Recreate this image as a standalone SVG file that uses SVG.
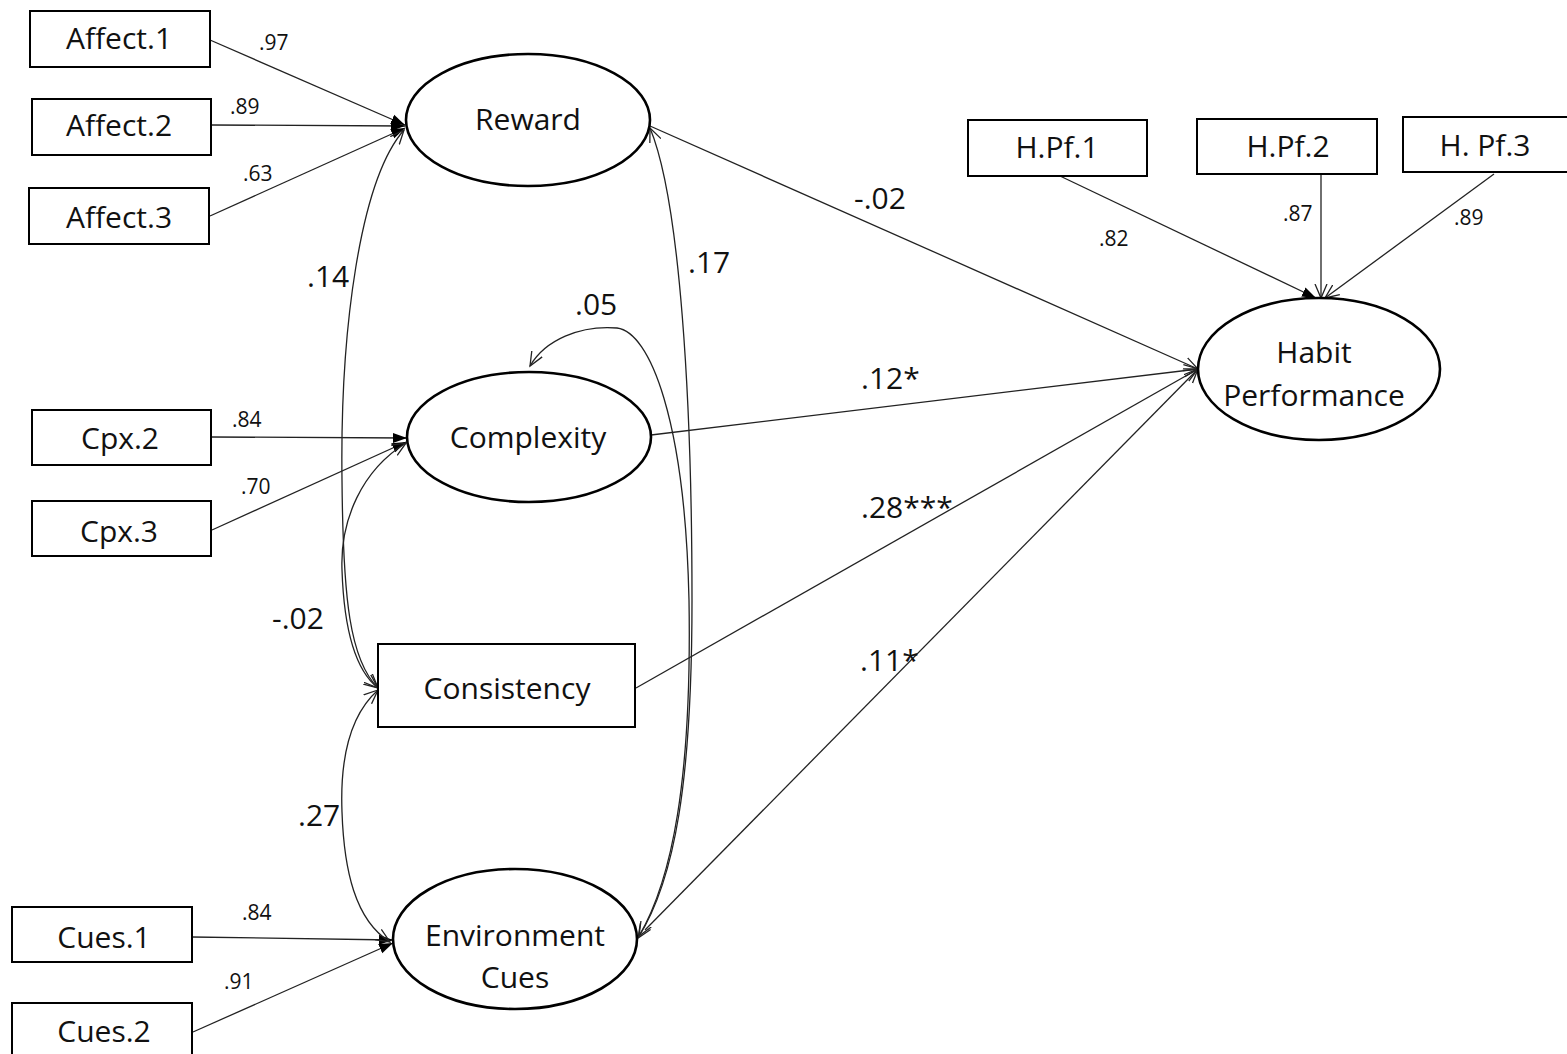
<svg xmlns="http://www.w3.org/2000/svg" width="1567" height="1054" viewBox="0 0 1567 1054">
  <defs>
    <style>
      .box { fill: #fff; stroke: #000; stroke-width: 2; }
      .lat { fill: #fff; stroke: #000; stroke-width: 2.6; }
      .lbl { font-family: "Open Sans", "Noto Sans", sans-serif; font-size: 30px; fill: #111; text-anchor: middle; }
      .coef { font-family: "Open Sans", "Noto Sans", sans-serif; font-size: 30px; fill: #111; }
      .load { font-family: "Open Sans", "Noto Sans", sans-serif; font-size: 21px; fill: #111; }
      .ln { fill: none; stroke: #222; stroke-width: 1.3; }
      .solid { marker-end: url(#headFilled); }
      .open { marker-end: url(#headOpen); }
      .both { marker-start: url(#headOpen); marker-end: url(#headOpen); }
    </style>
    <marker id="headFilled" markerUnits="userSpaceOnUse" markerWidth="16" markerHeight="12" refX="14" refY="6" orient="auto">
      <path d="M0,1 L14,6 L0,11 Z" fill="#000"/>
    </marker>
    <marker id="headOpen" markerUnits="userSpaceOnUse" markerWidth="16" markerHeight="14" refX="14" refY="7" orient="auto-start-reverse">
      <path d="M0,1 L14,7 L0,13" fill="none" stroke="#222" stroke-width="1.3"/>
    </marker>
  </defs>

  <rect width="1567" height="1054" fill="#fff"/>

  <!-- connectors -->
  <g id="connectors">
    <!-- indicator loadings -->
    <path class="ln solid" d="M210,40 L405,125"/>
    <path class="ln solid" d="M211,125 L405,126"/>
    <path class="ln solid" d="M210,216 L405,128"/>
    <path class="ln solid" d="M211,437 L407,438"/>
    <path class="ln solid" d="M212,530 L406,442"/>
    <path class="ln solid" d="M192,937 L393,940"/>
    <path class="ln solid" d="M193,1032 L393,943"/>
    <path class="ln solid" d="M1060,176 L1316,298"/>
    <path class="ln open" d="M1321,175 L1321,298"/>
    <path class="ln open" d="M1494,174 L1325,298"/>
    <!-- structural paths -->
    <path class="ln open" d="M650,126 L1198,369"/>
    <path class="ln open" d="M651,435 L1198,369"/>
    <path class="ln open" d="M636,688 L1198,369"/>
    <path class="ln open" d="M645,930 L1198,369"/>
    <!-- covariances -->
    <path class="ln both" d="M404,130 C360,180 340,330 342,480 C343,600 350,660 378,688"/>
    <path class="ln both" d="M406,443 C362,470 340,520 342,570 C344,630 355,670 378,688"/>
    <path class="ln both" d="M378,690 C350,715 340,760 342,812 C344,870 355,920 390,942"/>
    <path class="ln both" d="M650,128 C680,200 692,400 692,600 C692,780 675,880 638,938"/>
    <path class="ln both" d="M530,366 C545,340 580,325 617,328 C650,332 685,420 689,600 C692,780 672,880 639,936"/>
  </g>

  <!-- indicators -->
  <g id="affect1"><rect class="box" x="30" y="11" width="180" height="56"/><text class="lbl" x="119" y="49">Affect.1</text></g>
  <g id="affect2"><rect class="box" x="32" y="99" width="179" height="56"/><text class="lbl" x="119" y="136">Affect.2</text></g>
  <g id="affect3"><rect class="box" x="29" y="188" width="180" height="56"/><text class="lbl" x="119" y="228">Affect.3</text></g>
  <g id="cpx2"><rect class="box" x="32" y="410" width="179" height="55"/><text class="lbl" x="120" y="449">Cpx.2</text></g>
  <g id="cpx3"><rect class="box" x="32" y="501" width="179" height="55"/><text class="lbl" x="119" y="542">Cpx.3</text></g>
  <g id="cues1"><rect class="box" x="12" y="907" width="180" height="55"/><text class="lbl" x="104" y="948">Cues.1</text></g>
  <g id="cues2"><rect class="box" x="12" y="1003" width="180" height="60"/><text class="lbl" x="104" y="1042">Cues.2</text></g>
  <g id="hpf1"><rect class="box" x="968" y="120" width="179" height="56"/><text class="lbl" x="1057" y="158">H.Pf.1</text></g>
  <g id="hpf2"><rect class="box" x="1197" y="119" width="180" height="55"/><text class="lbl" x="1288" y="157">H.Pf.2</text></g>
  <g id="hpf3"><rect class="box" x="1403" y="117" width="170" height="55"/><text class="lbl" x="1485" y="156">H. Pf.3</text></g>

  <!-- constructs -->
  <g id="reward"><ellipse class="lat" cx="528" cy="120" rx="122" ry="66"/><text class="lbl" x="528" y="130">Reward</text></g>
  <g id="complexity"><ellipse class="lat" cx="529" cy="437" rx="122" ry="65"/><text class="lbl" x="528" y="448">Complexity</text></g>
  <g id="consistency"><rect class="box" x="378" y="644" width="257" height="83"/><text class="lbl" x="507" y="699">Consistency</text></g>
  <g id="envcues"><ellipse class="lat" cx="515" cy="939" rx="122" ry="70"/><text class="lbl" x="515" y="946">Environment</text><text class="lbl" x="515" y="988">Cues</text></g>
  <g id="habit"><ellipse class="lat" cx="1319" cy="369" rx="121" ry="71"/><text class="lbl" x="1314" y="363">Habit</text><text class="lbl" x="1314" y="406">Performance</text></g>

  <!-- coefficients -->
  <g id="labels">
    <text class="load" x="259" y="50">.97</text>
    <text class="load" x="230" y="114">.89</text>
    <text class="load" x="243" y="181">.63</text>
    <text class="load" x="232" y="427">.84</text>
    <text class="load" x="241" y="494">.70</text>
    <text class="load" x="242" y="920">.84</text>
    <text class="load" x="224" y="989">.91</text>
    <text class="load" x="1099" y="246">.82</text>
    <text class="load" x="1283" y="221">.87</text>
    <text class="load" x="1454" y="225">.89</text>
    <text class="coef" x="307" y="287">.14</text>
    <text class="coef" x="272" y="629">-.02</text>
    <text class="coef" x="298" y="826">.27</text>
    <text class="coef" x="575" y="315">.05</text>
    <text class="coef" x="688" y="273">.17</text>
    <text class="coef" x="854" y="209">-.02</text>
    <text class="coef" x="861" y="389">.12*</text>
    <text class="coef" x="861" y="518">.28***</text>
    <text class="coef" x="860" y="671">.11*</text>
  </g>
</svg>
